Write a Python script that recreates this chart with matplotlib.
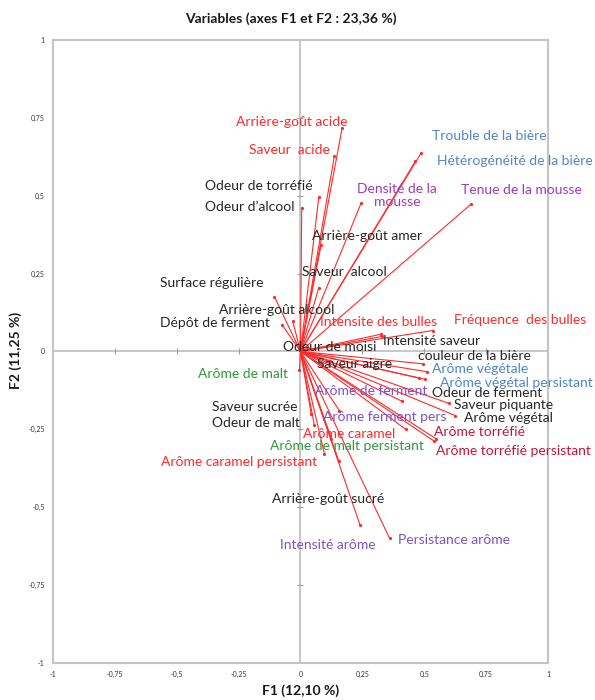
import matplotlib
matplotlib.use("Agg")
import matplotlib.pyplot as plt
from matplotlib.ticker import FuncFormatter

plt.rcParams["font.family"] = ["Lato", "DejaVu Sans"]

RED = "#ff2a2a"
BLACK = "#262626"
BLUE = "#4f86c6"
MAGENTA = "#a03ab4"
PURPLE = "#7d52c4"
GREEN = "#2f9a3a"
CRIMSON = "#c8143c"

# variable names, loadings on F1/F2, label anchor and label colour
variables = [
    "Arrière-goût acide", "Saveur  acide", "Odeur de torréfié", "Odeur d\u2019alcool",
    "Densité de la\nmousse", "Trouble de la bière", "Hétérogénéité de la bière",
    "Tenue de la mousse", "Arrière-goût amer", "Saveur  alcool", "Surface régulière",
    "Arrière-goût alcool", "Dépôt de ferment", "Intensite des bulles",
    "Fréquence  des bulles", "Odeur de moisi", "Intensité saveur", "couleur de la bière",
    "Arôme de malt", "Saveur aigre", "Arôme végétale", "Arôme végétal persistant",
    "Arôme de ferment", "Odeur de ferment", "Saveur piquante", "Arôme végétal",
    "Arôme ferment pers", "Saveur sucrée", "Odeur de malt", "Arôme torréfié",
    "Arôme caramel", "Arôme de malt persistant", "Arôme torréfié persistant",
    "Arôme caramel persistant", "Arrière-goût sucré", "Intensité arôme",
    "Persistance arôme",
]
f1 = [0.168, 0.137, 0.074, 0.005, 0.245, 0.487, 0.464, 0.688, 0.083, 0.074, -0.105,
      -0.031, -0.074, 0.325, 0.534, 0.030, 0.330, 0.496, -0.004, 0.120, 0.477, 0.505,
      0.410, 0.510, 0.600, 0.625, 0.425, 0.043, 0.056, 0.547, 0.157, 0.155, 0.540,
      0.097, 0.125, 0.240, 0.360]
f2 = [0.716, 0.627, 0.495, 0.460, 0.476, 0.636, 0.610, 0.472, 0.340, 0.205, 0.175,
      0.096, 0.085, 0.055, 0.067, 0.010, 0.048, -0.040, -0.060, -0.030, -0.085, -0.090,
      -0.160, -0.065, -0.167, -0.206, -0.250, -0.200, -0.237, -0.280, -0.190, -0.352,
      -0.288, -0.330, -0.280, -0.556, -0.600]
label_x = [-0.262, -0.206, -0.387, -0.387, 0.390, 0.532, 0.550, 0.649, 0.048, 0.008,
           -0.569, -0.331, -0.569, 0.077, 0.621, -0.069, 0.335, 0.476, -0.415, 0.065,
           0.532, 0.565, 0.060, 0.532, 0.621, 0.661, 0.089, -0.359, -0.359, 0.540,
           0.012, -0.125, 0.548, -0.565, -0.117, -0.081, 0.395]
label_y = [0.738, 0.648, 0.530, 0.465, 0.500, 0.690, 0.610, 0.517, 0.372, 0.254,
           0.218, 0.132, 0.090, 0.093, 0.100, 0.013, 0.032, -0.016, -0.074, -0.042,
           -0.058, -0.100, -0.128, -0.135, -0.173, -0.215, -0.212, -0.177, -0.231,
           -0.260, -0.266, -0.305, -0.321, -0.356, -0.475, -0.620, -0.607]
label_color = [RED, RED, BLACK, BLACK, MAGENTA, BLUE, BLUE, MAGENTA, BLACK, BLACK,
               BLACK, BLACK, BLACK, RED, RED, BLACK, BLACK, BLACK, GREEN, BLACK,
               BLUE, BLUE, PURPLE, BLACK, BLACK, BLACK, PURPLE, BLACK, BLACK, CRIMSON,
               RED, GREEN, CRIMSON, RED, BLACK, PURPLE, PURPLE]

ticks = [-1, -0.75, -0.5, -0.25, 0, 0.25, 0.5, 0.75, 1]

fig = plt.figure(figsize=(5.95, 7), dpi=100)
ax = fig.add_axes([0.089, 0.053, 0.832, 0.890])
ax.set_xlim(-1, 1)
ax.set_ylim(-1, 1)

for s in ax.spines.values():
    s.set_color("#c4c4c4")
    s.set_linewidth(1.5)

# axes through the origin with little graduation marks
ax.axhline(0, color="#b8b8b8", lw=1.1, zorder=1)
ax.axvline(0, color="#b8b8b8", lw=1.1, zorder=1)
inner = [t for t in ticks if t not in (-1, 0, 1)]
ax.plot(inner, [0] * len(inner), ls="none", marker="|", ms=4, color="#a0a0a0", mew=0.8)
ax.plot([0] * len(inner), inner, ls="none", marker="_", ms=4, color="#a0a0a0", mew=0.8)

for x, y in zip(f1, f2):
    ax.plot([0, x], [0, y], color=RED, lw=0.8, zorder=2)
    ax.plot(x, y, marker="o", ms=2.3, color=RED, mec="none", zorder=3)

for name, x, y, c in zip(variables, label_x, label_y, label_color):
    ha = "center" if "\n" in name else "left"
    ax.text(x, y, name, color=c, fontsize=10, ha=ha, va="center",
            linespacing=1.1, zorder=4)

fmt = FuncFormatter(lambda v, _: f"{v:g}".replace(".", ","))
ax.set_xticks(ticks)
ax.set_yticks(ticks)
ax.xaxis.set_major_formatter(fmt)
ax.yaxis.set_major_formatter(fmt)
ax.tick_params(length=0, labelsize=5, colors="#333333", pad=6)

fig.text(0.488, 0.974, "Variables (axes F1 et F2 : 23,36 %)", ha="center", va="center",
         fontsize=10, fontweight="bold", color="#1a1a1a")
fig.text(0.505, 0.014, "F1 (12,10 %)", ha="center", va="center",
         fontsize=10, fontweight="bold", color="#1a1a1a")
fig.text(0.026, 0.5, "F2 (11,25 %)", ha="center", va="center", rotation=90,
         fontsize=10, fontweight="bold", color="#1a1a1a")

fig.savefig("out.png", dpi=100)
